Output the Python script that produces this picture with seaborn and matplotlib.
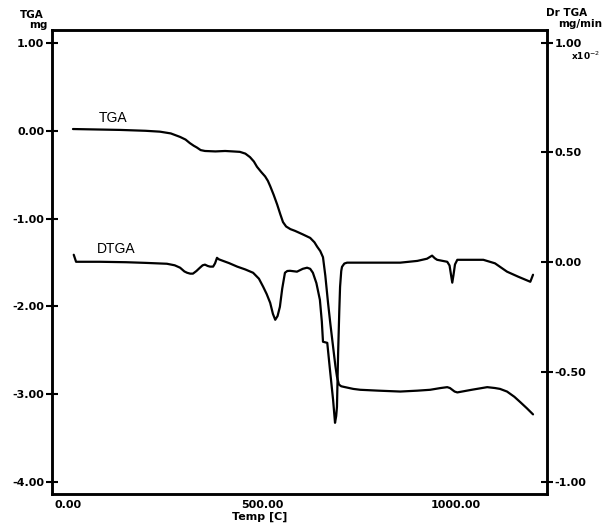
import numpy as np
import pandas as pd
import seaborn as sns
import matplotlib.pyplot as plt

# values
tga_temp = [13, 134, 200, 237, 265, 289, 303, 314, 324, 332, 342, 353, 380, 405, 425, 443,
            457, 469, 479, 487, 498, 508, 515, 521, 530, 539, 547, 554, 562, 573, 585, 605,
            624, 635, 642, 650, 657, 663, 670, 676, 683, 689, 693, 698, 704, 714, 735, 753,
            800, 856, 900, 933, 960, 977, 984, 990, 996, 1003, 1040, 1080, 1100, 1113, 1131,
            1150, 1165, 1182, 1198]
tga_mg = [0.02, 0.01, 0.00, -0.01, -0.03, -0.07, -0.10, -0.14, -0.17, -0.19, -0.22, -0.23,
          -0.235, -0.23, -0.235, -0.24, -0.26, -0.30, -0.35, -0.41, -0.47, -0.52, -0.57, -0.63,
          -0.73, -0.84, -0.95, -1.04, -1.09, -1.12, -1.14, -1.18, -1.22, -1.27, -1.32, -1.37,
          -1.44, -1.65, -1.96, -2.20, -2.46, -2.68, -2.80, -2.89, -2.91, -2.92, -2.94, -2.95,
          -2.96, -2.97, -2.96, -2.95, -2.93, -2.92, -2.93, -2.95, -2.97, -2.98, -2.95, -2.92,
          -2.93, -2.94, -2.97, -3.03, -3.09, -3.16, -3.23]

dtga_temp = [15, 21, 82, 150, 200, 255, 275, 289, 300, 307, 315, 322, 331, 340, 347, 353,
             360, 366, 374, 379, 384, 388, 392, 415, 436, 457, 477, 492, 503, 512, 521, 528,
             534, 540, 546, 552, 559, 565, 572, 590, 605, 616, 624, 631, 640, 649, 654, 657,
             668, 675, 683, 688, 691, 693, 696, 699, 701, 704, 706, 712, 719, 800, 856, 900,
             925, 938, 945, 951, 977, 983, 987, 990, 993, 997, 1003, 1070, 1100, 1131, 1160,
             1191, 1198]
dtga_rate = [0.034, 0.002, 0.002, 0.000, -0.003, -0.007, -0.014, -0.025, -0.042, -0.048,
             -0.052, -0.052, -0.040, -0.025, -0.014, -0.011, -0.017, -0.020, -0.020, -0.005,
             0.020, 0.014, 0.011, -0.004, -0.020, -0.033, -0.048, -0.075, -0.112, -0.145,
             -0.185, -0.235, -0.262, -0.245, -0.203, -0.120, -0.048, -0.040, -0.039, -0.043,
             -0.030, -0.025, -0.030, -0.048, -0.095, -0.171, -0.270, -0.362, -0.367, -0.490,
             -0.626, -0.731, -0.700, -0.658, -0.412, -0.220, -0.112, -0.040, -0.021, -0.006,
             -0.002, -0.002, -0.002, 0.006, 0.016, 0.030, 0.018, 0.011, 0.002, -0.015, -0.060,
             -0.093, -0.060, -0.010, 0.011, 0.011, -0.005, -0.043, -0.066, -0.089, -0.057]

left_ticks = [1.0, 0.0, -1.0, -2.0, -3.0, -4.0]
right_ticks = [1.0, 0.5, 0.0, -0.5, -1.0]
x_ticks = [0, 500, 1000]

tga = pd.DataFrame({"temp": tga_temp, "mg": tga_mg})
dtga = pd.DataFrame({"temp": dtga_temp, "rate": dtga_rate})

sns.set_style("white")
plt.rcParams["axes.unicode_minus"] = False
plt.rcParams["font.family"] = ["DejaVu Sans"]
plt.rcParams["text.color"] = "black"
plt.rcParams["xtick.color"] = "black"
plt.rcParams["ytick.color"] = "black"

fig = plt.figure(figsize=(6.1, 5.24), dpi=100)
ax = fig.add_axes([52 / 610, 30 / 524, 495 / 610, 464 / 524])
ax2 = ax.twinx()

sns.lineplot(data=tga, x="temp", y="mg", sort=False, color="black", lw=1.6,
             solid_joinstyle="round", ax=ax)
sns.lineplot(data=dtga, x="temp", y="rate", sort=False, color="black", lw=1.6,
             solid_joinstyle="round", ax=ax2)

ax.set_xlim(-41, 1234)
ax.set_ylim(-4.137, 1.148)
ax2.set_ylim(-1.055, 1.057)

ax.set_xticks(x_ticks)
ax.set_xticklabels([f"{v:.2f}" for v in x_ticks])
ax.set_yticks(left_ticks)
ax.set_yticklabels([f"{v:.2f}" for v in left_ticks])
ax2.set_yticks(right_ticks)
ax2.set_yticklabels([f"{v:.2f}" for v in right_ticks])

for a in (ax, ax2):
    for s in a.spines.values():
        s.set_linewidth(1.8)
        s.set_color("black")
    a.set_xlabel("")
    a.set_ylabel("")

ax.tick_params(axis="y", direction="inout", length=9, width=1.5, pad=1, labelsize=8,
               colors="black")
ax.tick_params(axis="x", direction="in", length=6, width=1.5, pad=4, labelsize=8,
               colors="black")
ax2.tick_params(axis="y", direction="inout", length=9, width=1.5, pad=1, labelsize=8,
                colors="black")
for lab in ax.get_xticklabels() + ax.get_yticklabels() + ax2.get_yticklabels():
    lab.set_fontweight("bold")

fig.text(260 / 610, 1 - 517 / 524, "Temp [C]", ha="center", va="center",
         fontsize=8, fontweight="bold")

ax.text(117, 0.15, "TGA", fontsize=10, family="Liberation Sans", ha="center", va="center")
ax.text(125, -1.35, "DTGA", fontsize=10, family="Liberation Sans", ha="center", va="center")

fig.text(32 / 610, 1 - 15 / 524, "TGA", fontsize=7.5, fontweight="bold", ha="center", va="center")
fig.text(38 / 610, 1 - 25 / 524, "mg", fontsize=7.5, fontweight="bold", ha="center", va="center")
fig.text(567 / 610, 1 - 13 / 524, "Dr TGA", fontsize=7.5, fontweight="bold", ha="center", va="center")
fig.text(580 / 610, 1 - 24 / 524, "mg/min", fontsize=7.5, fontweight="bold", ha="center", va="center")
fig.text(586 / 610, 1 - 56 / 524, "x10$^{-2}$", fontsize=6.5, fontweight="bold", ha="center", va="center")

fig.savefig("out.png", dpi=100)
